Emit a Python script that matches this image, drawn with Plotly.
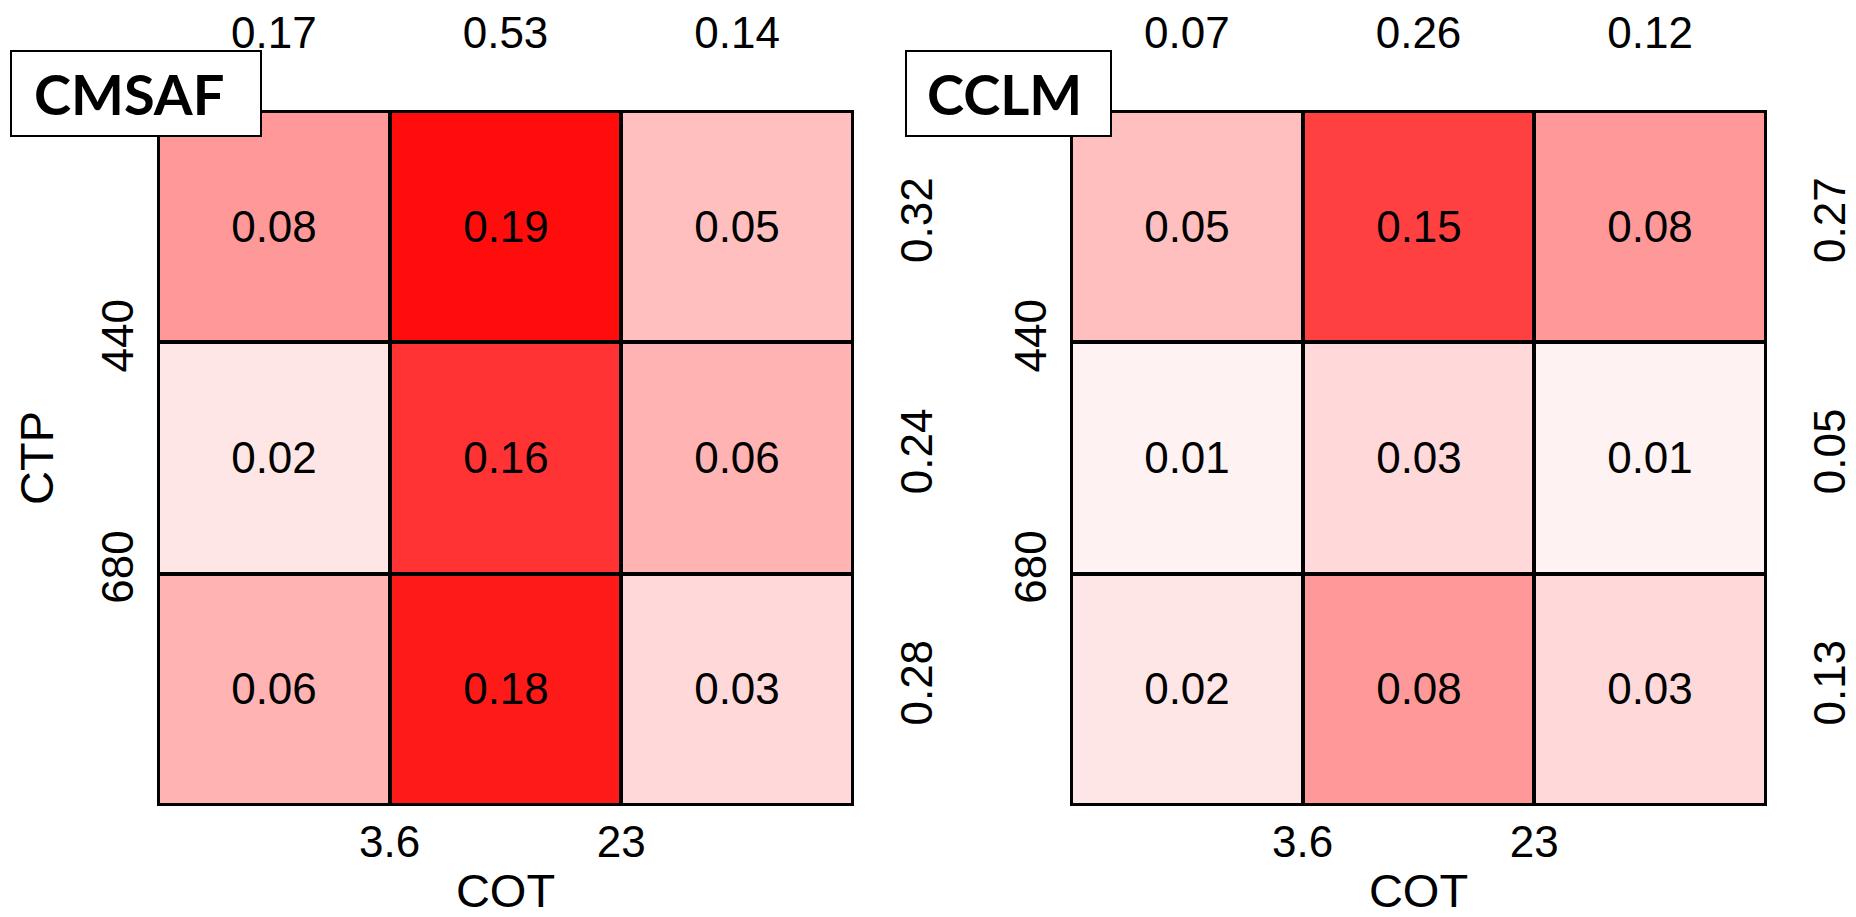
import plotly.graph_objects as go

# ---- data ----
cot_bins = [0, 1, 2]
ctp_bins = [0, 1, 2]
cot_tick_labels = ["3.6", "23"]
ctp_tick_labels = ["440", "680"]

cmsaf_values = [[0.08, 0.19, 0.05],
                [0.02, 0.16, 0.06],
                [0.06, 0.18, 0.03]]
cmsaf_col_sums = [0.17, 0.53, 0.14]
cmsaf_row_sums = [0.32, 0.24, 0.28]

cclm_values = [[0.05, 0.15, 0.08],
               [0.01, 0.03, 0.01],
               [0.02, 0.08, 0.03]]
cclm_col_sums = [0.07, 0.26, 0.12]
cclm_row_sums = [0.27, 0.05, 0.13]

panel_names = ["CMSAF", "CCLM"]

# ---- figure geometry (page pixels; body has an 8px margin) ----
OFF = 8
W, H = 1856 - OFF, 917 - OFF


def px(x):
    return (x - OFF) / W


def py(y):
    return 1 - (y - OFF) / H


FONT = "Liberation Sans, Arial, Helvetica, sans-serif"
TICK_SIZE = 44
colorscale = [[0, "#ffffff"], [1, "#ff0000"]]

fig = go.Figure()

panels = [
    dict(z=cmsaf_values, cols=cmsaf_col_sums, rows=cmsaf_row_sums, x0=158, x1=853,
         xa="x", ya="y", xt="x3", yr="y3", ctp_title=True, box=(11, 261), tx=129),
    dict(z=cclm_values, cols=cclm_col_sums, rows=cclm_row_sums, x0=1071, x1=1766,
         xa="x2", ya="y2", xt="x4", yr="y4", ctp_title=False, box=(906, 1111), tx=1004),
]

y_top, y_bot = 111, 805
ydom = [py(y_bot), py(y_top)]

for p in panels:
    fig.add_trace(go.Heatmap(
        z=p["z"], x=cot_bins, y=ctp_bins,
        colorscale=colorscale, zmin=0, zmax=0.2, showscale=False,
        xgap=4, ygap=4,
        texttemplate="%{z:.2f}",
        textfont=dict(family=FONT, size=TICK_SIZE, color="black"),
        hoverinfo="skip",
        xaxis=p["xa"], yaxis=p["ya"],
    ))
    fig.add_trace(go.Scatter(x=[None], y=[None], xaxis=p["xt"], yaxis=p["yr"],
                             showlegend=False, hoverinfo="skip"))

common_axis = dict(showgrid=False, zeroline=False, ticks="",
                   automargin=False, fixedrange=True,
                   tickfont=dict(family=FONT, size=TICK_SIZE, color="black"))

layout = dict(
    width=W, height=H,
    margin=dict(l=0, r=0, t=0, b=0),
    paper_bgcolor="white", plot_bgcolor="black",
    showlegend=False,
)

for i, p in enumerate(panels):
    n = "" if i == 0 else "2"
    xdom = [px(p["x0"]), px(p["x1"])]
    layout["xaxis" + n] = dict(
        common_axis, domain=xdom, anchor=p["ya"], range=[-0.5, 2.5],
        showline=True, linecolor="black", linewidth=1, mirror=True,
        tickmode="array", tickvals=[0.5, 1.5], ticktext=cot_tick_labels,
        ticklabelstandoff=-2,
        title=dict(text="COT", font=dict(family=FONT, size=47, color="black"), standoff=37),
    )
    ydict = dict(
        common_axis, domain=ydom, anchor=p["xa"], range=[2.5, -0.5],
        showline=True, linecolor="black", linewidth=1, mirror=True,
        tickmode="array", tickvals=[0.5, 1.5], ticktext=ctp_tick_labels,
        tickangle=-90, ticklabelstandoff=6,
    )
    if p["ctp_title"]:
        ydict["title"] = dict(text="CTP", font=dict(family=FONT, size=47, color="black"), standoff=24)
    layout["yaxis" + n] = ydict
    nt = "3" if i == 0 else "4"
    layout["xaxis" + nt] = dict(
        common_axis, showline=False, overlaying=p["xa"], side="top", anchor=p["ya"],
        range=[-0.5, 2.5],
        tickmode="array", tickvals=cot_bins, ticktext=[f"{v:.2f}" for v in p["cols"]],
        ticklabelstandoff=53,
    )
    layout["yaxis" + nt] = dict(
        common_axis, showline=False, overlaying=p["ya"], side="right", anchor=p["xa"],
        range=[2.5, -0.5],
        tickmode="array", tickvals=ctp_bins, ticktext=[f"{v:.2f}" for v in p["rows"]],
        tickangle=-90, ticklabelstandoff=34,
    )

fig.update_layout(**layout)

# panel name boxes
for name, p in zip(panel_names, panels):
    bx0, bx1 = p["box"]
    fig.add_shape(type="rect", xref="paper", yref="paper",
                  x0=px(bx0), x1=px(bx1), y0=py(136), y1=py(51),
                  fillcolor="white", line=dict(color="black", width=2), layer="above")
    fig.add_annotation(
        xref="paper", yref="paper", x=px(p["tx"]), y=py(94),
        xanchor="center", yanchor="middle",
        text=f"<b>{name}</b>", showarrow=False,
        font=dict(family="Lato, Open Sans, sans-serif", size=56, color="black"),
    )

fig.write_html("out.html")
